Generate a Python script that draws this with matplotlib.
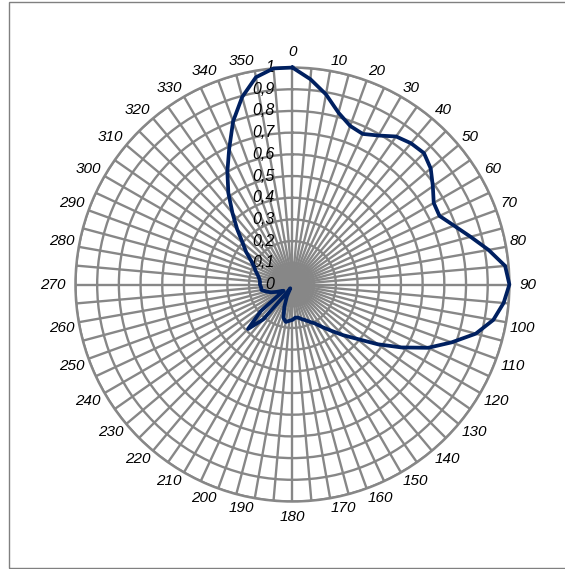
import numpy as np
import matplotlib.pyplot as plt
from matplotlib.patches import Rectangle

plt.rcParams['font.family'] = ['Liberation Sans', 'DejaVu Sans']

# Normalised radiation pattern, sampled every 5 degrees (clockwise from 0)
angle_deg = np.arange(0, 360, 5)
gain = [1.00, 0.95, 0.89, 0.82, 0.778, 0.766, 0.793, 0.833, 0.85, 0.857,
        0.832, 0.79, 0.752, 0.748, 0.793, 0.85, 0.918, 0.984, 1.00, 0.977,
        0.94, 0.875, 0.78, 0.69, 0.58, 0.48, 0.39, 0.33, 0.278, 0.239,
        0.207, 0.19, 0.175, 0.165, 0.155, 0.153, 0.163, 0.168, 0.175, 0.16,
        0.11, 0.06, 0.02, 0.05, 0.21, 0.29, 0.19, 0.05, 0.06, 0.08,
        0.105, 0.125, 0.145, 0.145, 0.15, 0.15, 0.155, 0.165, 0.18, 0.195,
        0.22, 0.26, 0.30, 0.36, 0.43, 0.515, 0.60, 0.69, 0.80, 0.895,
        0.97, 1.00]

angle_labels = np.arange(0, 360, 10)
ring_vals = np.round(np.arange(0, 1.01, 0.1), 1)
ring_labels = ['0' if v == 0 else ('1' if v == 1 else str(v).replace('.', ','))
               for v in ring_vals]

GRID_C = '#878787'
LINE_C = '#002060'
R_PX = 217.0        # plot radius in pixels at dpi 100
DIGIT_W = 8.5       # approx width of one digit at 11pt
TXT_H = 11.0

fig = plt.figure(figsize=(5.65, 5.69), dpi=100)
ax = fig.add_axes([0.1336, 0.1186, 0.768, 0.7627], projection='polar')
ax.set_theta_zero_location('N')
ax.set_theta_direction(-1)
ax.set_ylim(0, 1)

ax.set_thetagrids(np.arange(0, 360, 5), labels=[])
ax.set_rgrids(ring_vals[1:], labels=[])
ax.grid(True, color=GRID_C, lw=1.7)
ax.spines['polar'].set_color(GRID_C)
ax.spines['polar'].set_linewidth(1.8)
ax.tick_params(length=0)

# closed pattern trace
th = np.deg2rad(np.append(angle_deg, angle_deg[0]))
rr = np.append(gain, gain[0])
ax.plot(th, rr, color=LINE_C, lw=2.7, zorder=5, clip_on=False,
        solid_joinstyle='round')

# angle labels: box corner nearest the rim sits on a slightly larger circle
for a in angle_labels:
    t = np.deg2rad(a)
    sx, sy = np.sin(t), np.cos(t)
    on_axis = (a % 90 == 0)
    rad = 227.0 if on_axis else 221.0
    w = DIGIT_W * len(str(a))
    ox = 0 if abs(sx) < 1e-6 else np.sign(sx) * w / 2
    oy = 0 if abs(sy) < 1e-6 else np.sign(sy) * TXT_H / 2
    cx, cy = rad * sx + ox, rad * sy + oy
    ax.annotate(str(a), xy=(t, 1.0), xytext=(cx - R_PX * sx, cy - R_PX * sy),
                textcoords='offset pixels', ha='center', va='center',
                fontsize=11, style='italic', annotation_clip=False)

# radial scale along the 0 spoke
for v, s in zip(ring_vals, ring_labels):
    ax.annotate(s, xy=(0, v), xytext=(-18, 0), textcoords='offset pixels',
                ha='right', va='center', fontsize=11.5, style='italic',
                annotation_clip=False)

# outer frame
fig.patches.append(Rectangle((9 / 565, 1.5 / 569), 1.0, 565.5 / 569,
                             transform=fig.transFigure, fill=False,
                             edgecolor='#808080', lw=1.0))

plt.savefig('out.png', dpi=100)
plt.close()
